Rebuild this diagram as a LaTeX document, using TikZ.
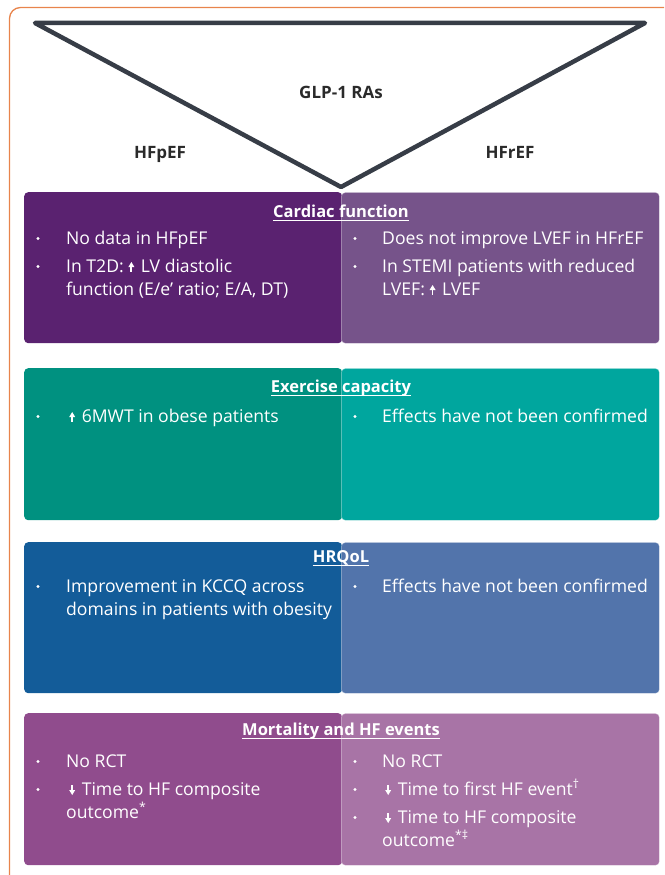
\documentclass[tikz,border=0pt]{standalone}
\usepackage{fontspec}
\setmainfont{Open Sans}
\definecolor{cfL}{HTML}{5A2270}
\definecolor{cfR}{HTML}{76538A}
\definecolor{exL}{HTML}{009180}
\definecolor{exR}{HTML}{00A69E}
\definecolor{hqL}{HTML}{135C99}
\definecolor{hqR}{HTML}{5274AB}
\definecolor{mhL}{HTML}{904C8D}
\definecolor{mhR}{HTML}{A874A6}
\definecolor{triC}{HTML}{373D47}
\definecolor{orangeC}{HTML}{E8844C}
\definecolor{labC}{HTML}{2A2A2A}
\newcommand{\uparr}{\tikz[baseline=0pt,x=1pt,y=1pt]{\fill[white] (-0.9,0) rectangle (0.9,6); \fill[white] (-3,5) -- (3,5) -- (0,10) -- cycle;}\hspace{2pt}}
\newcommand{\dnarr}{\tikz[baseline=0pt,x=1pt,y=1pt]{\fill[white] (-0.9,10) rectangle (0.9,4); \fill[white] (-3,5) -- (3,5) -- (0,0) -- cycle;}\hspace{2pt}}
\begin{document}
\begin{tikzpicture}[x=1pt,y=-1pt,
  panel/.style={rounded corners=4pt, inner sep=0pt, anchor=north west, minimum width=318pt},
  rpanel/.style={panel, draw=white, draw opacity=0.35, line width=0.8pt},
  head/.style={font=\fontsize{16.5}{19}\selectfont\bfseries, text=white, inner sep=0pt, anchor=base},
  ul/.style={white, line width=1pt},
  item/.style={font=\fontsize{17.6}{23}\selectfont, text=white, inner sep=0pt, anchor=base west},
  lab/.style={font=\fontsize{17}{18}\selectfont\bfseries, text=labC, inner sep=0pt, anchor=base},
  bul/.style={fill=white}
]
\useasboundingbox (0,0) rectangle (664,875);
% orange frame
\begin{scope}
\clip (0,0) rectangle (664,875);
\draw[orangeC, line width=1.3pt, rounded corners=11pt] (9.5,890) -- (9.5,7.5) -- (680,7.5);
\end{scope}
% triangle
\coordinate (tA) at (35,23);
\coordinate (tB) at (645,23);
\coordinate (tC) at (341,187);
\draw[triC, line width=4.5pt, line join=round, line cap=round] (tA) -- (tB) -- (tC) -- cycle;
\node[lab] (glp) at (341,99) {GLP-1 RAs};
\node[lab] (hfp) at (160,158) {HFpEF};
\node[lab] (hfr) at (510,158) {HFrEF};

% panels
\node[panel, fill=cfL, minimum height=151pt] (cfl) at (24,192) {};
\node[rpanel, fill=cfR, minimum height=151pt] (cfr) at (341,192) {};
\node[panel, fill=exL, minimum height=152pt] (exl) at (24,368) {};
\node[rpanel, fill=exR, minimum height=152pt] (exr) at (341,368) {};
\node[panel, fill=hqL, minimum height=151pt] (hql) at (24,542) {};
\node[rpanel, fill=hqR, minimum height=151pt] (hqr) at (341,542) {};
\node[panel, fill=mhL, minimum height=152pt] (mhl) at (24,713) {};
\node[rpanel, fill=mhR, minimum height=152pt] (mhr) at (341,713) {};

% headings
\node[head] (cfh) at (341,217) {Cardiac function};
\draw[ul] ([yshift=-3.5pt]cfh.base west) -- ([yshift=-3.5pt]cfh.base east);
\node[head] (exh) at (341,392) {Exercise capacity};
\draw[ul] ([yshift=-3.5pt]exh.base west) -- ([yshift=-3.5pt]exh.base east);
\node[head] (hqh) at (341,562) {HRQoL};
\draw[ul] ([yshift=-3.5pt]hqh.base west) -- ([yshift=-3.5pt]hqh.base east);
\node[head] (mhh) at (341,735) {Mortality and HF events};
\draw[ul] ([yshift=-3.5pt]mhh.base west) -- ([yshift=-3.5pt]mhh.base east);

% cardiac function
\fill[bul] (38,238.5) circle (1.6); \node[item] (c1) at (66,244) {No data in HFpEF};
\fill[bul] (38,266.5) circle (1.6); \node[item] (c2) at (66,272) {In T2D: \uparr\ LV diastolic};
\node[item] (c2b) at (66,295) {function (E/e’ ratio; E/A, DT)};
\fill[bul] (355,238.5) circle (1.6); \node[item] (c3) at (382,244) {Does not improve LVEF in HFrEF};
\fill[bul] (355,266.5) circle (1.6); \node[item] (c4) at (382,272) {In STEMI patients with reduced};
\node[item] (c4b) at (382,295) {LVEF: \uparr\ LVEF};

% exercise
\fill[bul] (38,416.5) circle (1.6); \node[item] (e1) at (66,422) {\hspace{3pt}\uparr\ 6MWT in obese patients};
\fill[bul] (355,416.5) circle (1.6); \node[item] (e2) at (382,422) {Effects have not been confirmed};

% HRQoL
\fill[bul] (38,586.5) circle (1.6); \node[item] (h1) at (66,592) {Improvement in KCCQ across};
\node[item] (h1b) at (66,615) {domains in patients with obesity};
\fill[bul] (355,586.5) circle (1.6); \node[item] (h2) at (382,592) {Effects have not been confirmed};

% mortality
\fill[bul] (38,761.5) circle (1.6); \node[item] (m1) at (66,767) {No RCT};
\fill[bul] (38,789.5) circle (1.6); \node[item] (m2) at (66,795) {\hspace{3pt}\dnarr\ Time to HF composite};
\node[item] (m2b) at (66,818) {outcome\textsuperscript{*}};
\fill[bul] (355,761.5) circle (1.6); \node[item] (m3) at (382,767) {No RCT};
\fill[bul] (355,789.5) circle (1.6); \node[item] (m4) at (382,795) {\hspace{3pt}\dnarr\ Time to first HF event\textsuperscript{†}};
\fill[bul] (355,817.5) circle (1.6); \node[item] (m5) at (382,823) {\hspace{3pt}\dnarr\ Time to HF composite};
\node[item] (m5b) at (382,846) {outcome\textsuperscript{*‡}};
\end{tikzpicture}
\end{document}
